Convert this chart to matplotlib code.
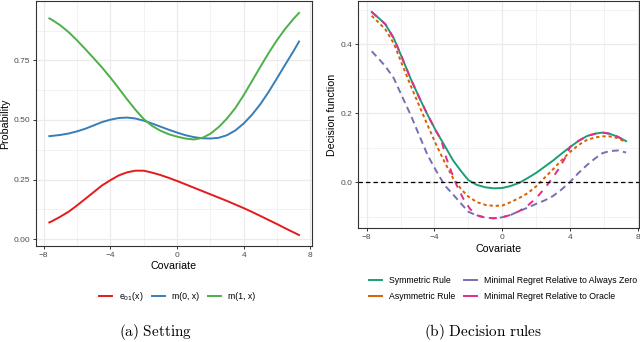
import numpy as np
import matplotlib.pyplot as plt
from matplotlib.lines import Line2D

plt.rcParams['font.family'] = ['Liberation Sans', 'DejaVu Sans']

# ---- panel (a): setting ----
cov_a = [-7.66, -7.5, -7.0, -6.5, -6.0, -5.5, -5.0, -4.5, -4.0, -3.5, -3.0, -2.5, -2.0, -1.5, -1.0, -0.5,
         0.0, 0.5, 1.0, 1.5, 2.0, 2.5, 3.0, 3.5, 4.0, 4.5, 5.0, 5.5, 6.0, 6.5, 7.0, 7.32]
e01 = [0.070, 0.075, 0.094, 0.115, 0.141, 0.169, 0.197, 0.225, 0.247, 0.267, 0.280, 0.287, 0.287, 0.279, 0.269, 0.257,
       0.244, 0.230, 0.216, 0.202, 0.188, 0.174, 0.160, 0.145, 0.130, 0.114, 0.097, 0.080, 0.063, 0.045, 0.028, 0.017]
m0 = [0.432, 0.433, 0.437, 0.443, 0.452, 0.463, 0.477, 0.491, 0.501, 0.508, 0.510, 0.506, 0.497, 0.485, 0.472, 0.459,
      0.447, 0.436, 0.428, 0.423, 0.422, 0.425, 0.436, 0.456, 0.485, 0.522, 0.566, 0.618, 0.675, 0.733, 0.790, 0.829]
m1 = [0.926, 0.920, 0.897, 0.868, 0.834, 0.797, 0.759, 0.720, 0.678, 0.633, 0.587, 0.543, 0.504, 0.475, 0.455, 0.440,
      0.430, 0.422, 0.418, 0.424, 0.442, 0.470, 0.506, 0.550, 0.604, 0.663, 0.723, 0.781, 0.835, 0.883, 0.925, 0.949]
labels_a = ['e$_{01}$(x)', 'm(0, x)', 'm(1, x)']
colors_a = ['#E41A1C', '#377EB8', '#4DAF4A']

# ---- panel (b): decision rules ----
cov_b = [-7.7, -7.3, -6.9, -6.4, -5.9, -5.4, -4.9, -4.4, -3.9, -3.4, -2.9, -2.4, -2.0, -1.5, -1.0,
         -0.5, 0.0, 0.5, 1.0, 1.5, 2.0, 2.5, 3.0, 3.5, 4.0, 4.5, 5.0, 5.5, 5.9, 6.3, 6.8, 7.3]
sym = [0.494, 0.477, 0.459, 0.418, 0.360, 0.300, 0.246, 0.195, 0.148, 0.106, 0.063, 0.030, 0.006, -0.008, -0.015,
       -0.018, -0.017, -0.011, -0.002, 0.012, 0.027, 0.045, 0.063, 0.083, 0.102, 0.120, 0.134, 0.141, 0.144, 0.141, 0.132, 0.119]
asym = [0.483, 0.464, 0.444, 0.403, 0.341, 0.280, 0.222, 0.165, 0.109, 0.058, 0.011, -0.022, -0.042, -0.058, -0.066,
        -0.069, -0.068, -0.058, -0.046, -0.032, -0.012, 0.013, 0.038, 0.064, 0.088, 0.108, 0.123, 0.130, 0.133, 0.133, 0.128, 0.116]
zero = [0.380, 0.359, 0.337, 0.302, 0.248, 0.195, 0.136, 0.078, 0.033, -0.009, -0.036, -0.064, -0.086, -0.097, -0.103,
        -0.105, -0.102, -0.095, -0.084, -0.074, -0.063, -0.053, -0.040, -0.021, 0.001, 0.027, 0.050, 0.070, 0.084, 0.090, 0.092, 0.086]
cov_o = [-7.7, -7.3, -6.9, -6.4, -5.9, -5.4, -4.9, -4.4, -3.9, -3.6, -3.3, -3.0, -2.7, -2.3, -1.9, -1.5, -1.0, -0.5,
         0.0, 0.5, 1.0, 1.5, 2.0, 2.5, 3.0, 3.4, 3.7, 4.0, 4.5, 5.0, 5.5, 5.9, 6.3, 6.8, 7.3]
oracle = [0.494, 0.477, 0.459, 0.418, 0.360, 0.300, 0.246, 0.195, 0.148, 0.122, 0.070, 0.030, -0.008, -0.048, -0.078, -0.096, -0.103, -0.105,
          -0.102, -0.095, -0.084, -0.068, -0.046, -0.018, 0.015, 0.044, 0.070, 0.102, 0.120, 0.134, 0.141, 0.144, 0.141, 0.132, 0.119]
labels_b = ['Symmetric Rule', 'Asymmetric Rule', 'Minimal Regret Relative to Always Zero', 'Minimal Regret Relative to Oracle']
colors_b = ['#1B9E77', '#D95F02', '#7570B3', '#E7298A']


def style(ax):
    ax.set_facecolor('white')
    for s in ax.spines.values():
        s.set_color('#333333')
        s.set_linewidth(0.8)
    ax.grid(which='major', color='#EBEBEB', lw=0.9)
    ax.grid(which='minor', color='#EBEBEB', lw=0.45)
    ax.set_axisbelow(True)
    ax.tick_params(which='major', length=2.5, width=0.7, color='#333333',
                   labelsize=6, labelcolor='#4D4D4D', pad=1.5)
    ax.tick_params(which='minor', length=0)


fig = plt.figure(figsize=(6.4, 3.42), dpi=100)

ax1 = fig.add_axes([36 / 640, 1 - 246 / 342, 275.7 / 640, 245 / 342])
style(ax1)
for ys, c in zip([e01, m0, m1], colors_a):
    ax1.plot(cov_a, ys, color=c, lw=1.4, solid_joinstyle='round')
ax1.set_xlim(-8.46, 8.08)
ax1.set_ylim(-0.029, 0.999)
ax1.set_xticks([-8, -4, 0, 4, 8])
ax1.set_xticks([-6, -2, 2, 6], minor=True)
ax1.set_yticks([0, 0.25, 0.5, 0.75])
ax1.set_yticklabels(['0.00', '0.25', '0.50', '0.75'])
ax1.set_yticks([0.125, 0.375, 0.625, 0.875], minor=True)
ax1.set_xlabel('Covariate', fontsize=7.7, labelpad=2)
ax1.set_ylabel('Probability', fontsize=7.7, labelpad=3)

ax2 = fig.add_axes([358.3 / 640, 1 - 228.3 / 342, 280.7 / 640, 227.3 / 342])
style(ax2)
ax2.plot(cov_b, sym, color=colors_b[0], lw=1.4, solid_joinstyle='round')
ax2.plot(cov_b, asym, color=colors_b[1], lw=1.4, dashes=(1.7, 1.5))
ax2.plot(cov_b, zero, color=colors_b[2], lw=1.4, dashes=(3.5, 2.2))
ax2.plot(cov_o, oracle, color=colors_b[3], lw=1.4, dashes=(3.5, 3.5))
ax2.axhline(0, color='black', lw=0.9, dashes=(3.5, 2.5))
ax2.set_xlim(-8.49, 8.06)
ax2.set_ylim(-0.134, 0.526)
ax2.set_xticks([-8, -4, 0, 4, 8])
ax2.set_xticks([-6, -2, 2, 6], minor=True)
ax2.set_yticks([0, 0.2, 0.4])
ax2.set_yticklabels(['0.0', '0.2', '0.4'])
ax2.set_yticks([-0.1, 0.1, 0.3, 0.5], minor=True)
ax2.set_xlabel('Covariate', fontsize=7.7, labelpad=2)
ax2.set_ylabel('Decision function', fontsize=7.7, labelpad=3)

# legends
h_a = [Line2D([], [], color=c, lw=1.4) for c in colors_a]
fig.legend(h_a, labels_a, loc='center', bbox_to_anchor=(177 / 640, 1 - 296.7 / 342), ncol=3,
           frameon=False, fontsize=6.3, handlelength=1.5, handletextpad=0.8, columnspacing=1.0)
h_b = [Line2D([], [], color=c, lw=1.4) for c in colors_b]
fig.legend(h_b, labels_b, loc='center', bbox_to_anchor=(503 / 640, 1 - 288.5 / 342), ncol=2,
           frameon=False, fontsize=6.3, handlelength=1.5, handletextpad=0.8, columnspacing=0.9,
           labelspacing=0.75)

# captions
fig.text(156 / 640, 1 - 332 / 342, r'$\mathrm{(a)\ Setting}$', ha='center', va='center',
         fontsize=11, math_fontfamily='cm')
fig.text(483 / 640, 1 - 332 / 342, r'$\mathrm{(b)\ Decision\ rules}$', ha='center', va='center',
         fontsize=11, math_fontfamily='cm')

fig.savefig('out.png', dpi=100)
